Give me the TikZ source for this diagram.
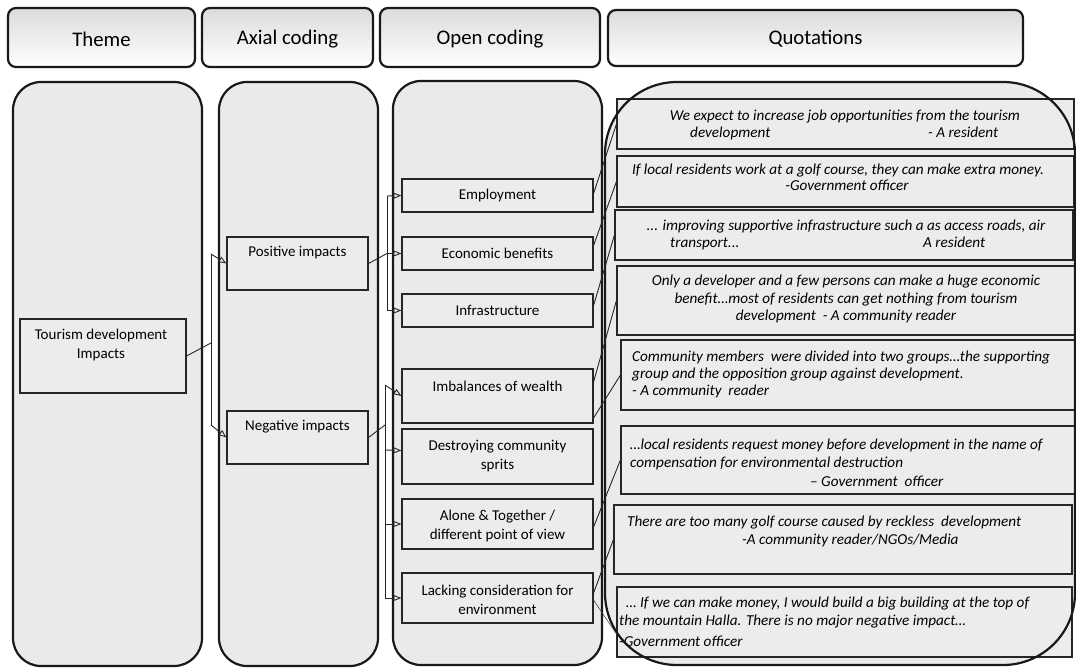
\documentclass[tikz,border=0pt]{standalone}
\usepackage{fontspec}
\setmainfont{Carlito}
\usetikzlibrary{arrows.meta,calc}
\definecolor{colfill}{HTML}{EAEAEA}
\definecolor{boxfill}{HTML}{ECECEC}
\tikzset{
  colbox/.style={draw=black!90,line width=2.2pt,fill=colfill,rounded corners=28pt},
  headbox/.style={draw=black!90,line width=2.2pt,rounded corners=8pt,top color=gray!28,bottom color=white,inner sep=0pt},
  headtext/.style={font=\fontsize{20.8}{22}\selectfont,inner sep=0pt},
  ibox/.style={draw=black!85,line width=1.1pt,fill=boxfill,inner sep=0pt},
  itext/.style={font=\fontsize{15}{19}\selectfont,inner sep=0pt,align=center},
  qtext/.style={font=\fontsize{15.2}{17}\selectfont\itshape,inner sep=0pt,anchor=base west},
  conn/.style={line width=0.9pt,draw=black!85},
  arr/.style={conn,-{Triangle[open,length=8pt,width=6pt]}},
}
\begin{document}
\begin{tikzpicture}[x=1pt,y=-1pt]
\useasboundingbox (0,0) rectangle (1076,668);
% headers
\draw[headbox] (8,8) rectangle (195,67);
\draw[headbox] (202,8) rectangle (373,67);
\draw[headbox] (380,8) rectangle (600,67);
\draw[headbox] (608,10) rectangle (1023,66);
\node[headtext] (hT) at (101.5,39) {Theme};
\node[headtext] (hA) at (287.5,39) {Axial coding};
\node[headtext] (hO) at (490,39) {Open coding};
\node[headtext] (hQ) at (815.5,39) {Quotations};
% columns
\draw[colbox] (13,82) rectangle (202,666);
\draw[colbox] (219,82) rectangle (378,666);
\draw[colbox] (393,81) rectangle (602,665);
\fill[colfill,rounded corners=72pt] (605,82) rectangle (1075,665);
% theme
\node[ibox,minimum width=166pt,minimum height=74pt] (tour) at (103,356) {};
\node[itext] (tourT) at (101,345.5) {Tourism development\\Impacts};
% axial
\node[ibox,minimum width=141pt,minimum height=53pt] (pos) at (297.5,263.5) {};
\node[itext] (posT) at (297.5,253) {Positive impacts};
\node[ibox,minimum width=141pt,minimum height=53pt] (neg) at (297.5,437.5) {};
\node[itext] (negT) at (297.5,427) {Negative impacts};
% open coding
\node[ibox,minimum width=191pt,minimum height=33pt] (emp) at (497.5,195.5) {};
\node[itext] (empT) at (497.5,195.5) {Employment};
\node[ibox,minimum width=191pt,minimum height=33pt] (eco) at (497.5,253.5) {};
\node[itext] (ecoT) at (497.5,253.5) {Economic benefits};
\node[ibox,minimum width=191pt,minimum height=33pt] (inf) at (497.5,310.5) {};
\node[itext] (infT) at (497.5,310.5) {Infrastructure};
\node[ibox,minimum width=191pt,minimum height=54pt] (imb) at (497.5,396) {};
\node[itext] (imbT) at (497.5,386) {Imbalances of wealth};
\node[ibox,minimum width=191pt,minimum height=55pt] (des) at (497.5,456.5) {};
\node[itext] (desT) at (497.5,456.5) {Destroying community\\sprits};
\node[ibox,minimum width=191pt,minimum height=50pt] (alo) at (497.5,524) {};
\node[itext] (aloT) at (497.5,525.5) {Alone \& Together /\\different point of view};
\node[ibox,minimum width=191pt,minimum height=50pt] (lac) at (497.5,598) {};
\node[itext] (lacT) at (497.5,599.5) {Lacking consideration for\\environment};
% quotation boxes
\node[ibox,minimum width=457pt,minimum height=50pt] (q1) at (845.5,124) {};
\node[ibox,minimum width=457pt,minimum height=51pt] (q2) at (845.5,181.5) {};
\node[ibox,minimum width=458pt,minimum height=50pt] (q3) at (844,235) {};
\node[ibox,minimum width=458pt,minimum height=69pt] (q4) at (846,300.5) {};
\node[ibox,minimum width=454pt,minimum height=70pt] (q5) at (848,375) {};
\node[ibox,minimum width=454pt,minimum height=68pt] (q6) at (848,460) {};
\node[ibox,minimum width=458pt,minimum height=69pt] (q7) at (843,539.5) {};
\node[ibox,minimum width=455pt,minimum height=70pt] (q8) at (844.5,622) {};
% quotation texts
\node[qtext,anchor=base] (t1a) at (845,121) {We expect to increase job opportunities from the tourism};
\node[qtext] (t1b) at (690,138) {development};
\node[qtext] (t1c) at (928,138) {- A resident};
\node[qtext,anchor=base] (t2a) at (838,175) {If local residents work at a golf course, they can make extra money.};
\node[qtext,anchor=base] (t2b) at (847,191) {-Government officer};
\node[qtext,anchor=base] (t3a) at (846,231) {... improving supportive infrastructure such a as access roads, air};
\node[qtext] (t3b) at (670,248) {transport...};
\node[qtext] (t3c) at (923,248) {A resident};
\node[qtext,anchor=base] (t4a) at (846,286) {Only a developer and a few persons can make a huge economic};
\node[qtext,anchor=base] (t4b) at (846,303) {benefit…most of residents can get nothing from tourism};
\node[qtext,anchor=base] (t4c) at (846,320) {development\ \ - A community reader};
\node[qtext] (t5a) at (632,361) {Community members\ \ were divided into two groups…the supporting};
\node[qtext] (t5b) at (632,378) {group and the opposition group against development.};
\node[qtext] (t5c) at (632,395) {- A community\ \ reader};
\node[qtext] (t6a) at (630,449) {…local residents request money before development in the name of};
\node[qtext] (t6b) at (630,467) {compensation for environmental destruction};
\node[qtext] (t6c) at (810,486) {– Government\ \ officer};
\node[qtext] (t7a) at (627,526) {There are too many golf course caused by reckless\ \ development};
\node[qtext] (t7b) at (742,544) {-A community reader/NGOs/Media};
\node[qtext] (t8a) at (626,607) {… If we can make money, I would build a big building at the top of};
\node[qtext] (t8b) at (619,625) {the mountain Halla. There is no major negative impact…};
\node[qtext] (t8c) at (619,646) {-Government officer};
% quotation container outline
\draw[draw=black!90,line width=2.2pt,rounded corners=72pt] (605,82) rectangle (1075,665);
% connectors theme -> axial
\coordinate (j1a) at (211,254);
\coordinate (j1m) at (211,343);
\coordinate (j1b) at (211,425);
\draw[conn] (tour.east) -- (j1m);
\draw[conn] (j1a) -- (j1b);
\draw[arr] (j1a) -- (pos.west);
\draw[arr] (j1b) -- (neg.west);
% positive -> open
\coordinate (j2a) at (387,196);
\coordinate (j2m) at (387,253.5);
\coordinate (j2b) at (387,310.5);
\draw[conn] (pos.east) -- (j2m);
\draw[conn] (j2a) -- (j2b);
\draw[arr] (j2a) -- (emp.west);
\draw[arr] (j2m) -- (eco.west);
\draw[arr] (j2b) -- (inf.west);
% negative -> open
\coordinate (j3a) at (385,385);
\coordinate (j3m) at (385,425);
\coordinate (j3c) at (385,450);
\coordinate (j3d) at (385,524);
\coordinate (j3b) at (385,598);
\draw[conn] (neg.east) -- (j3m);
\draw[conn] (j3a) -- (j3b);
\draw[arr] (j3a) -- (imb.west);
\draw[arr] (j3c) -- ($(des.west)+(0,-6)$);
\draw[arr] (j3d) -- (alo.west);
\draw[arr] (j3b) -- (lac.west);
% open -> quotations
\draw[conn] ($(emp.east)+(0,-2)$) -- (q1.west);
\draw[conn] ($(eco.east)+(0,-8)$) -- (q2.west);
\draw[conn] ($(inf.east)+(0,-5)$) -- (q3.west);
\draw[conn] ($(imb.east)+(0,-14)$) -- (q4.west);
\draw[conn] ($(imb.east)+(0,22)$) -- (q5.west);
\draw[conn] ($(alo.east)+(0,3)$) -- (q6.west);
\draw[conn] ($(lac.east)+(0,-5)$) -- (q7.west);
\draw[line width=0.6pt,draw=black!70] ($(lac.east)+(0,2)$) -- ($(q8.west)+(0,12)$);
\end{tikzpicture}
\end{document}
